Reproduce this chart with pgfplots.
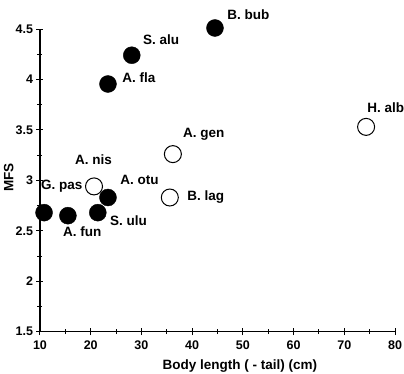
\documentclass[border=0pt]{standalone}
\usepackage{fontspec}
\setmainfont{Liberation Sans}
\usepackage{pgfplots}
\pgfplotsset{compat=1.18}
\begin{document}
\begin{tikzpicture}[x=1pt,y=1pt,font=\fontsize{13.5}{15}\selectfont\bfseries]
\useasboundingbox (-40,-41.3) rectangle (364,331.7);
\begin{axis}[
  at={(0,0)}, anchor=south west,
  scale only axis, width=355pt, height=302.7pt,
  xmin=10, xmax=80, ymin=1.5, ymax=4.5,
  axis x line*=bottom, axis y line*=left,
  axis line style={line width=1.3pt},
  xtick={10,20,...,80}, ytick={1.5,2,2.5,3,3.5,4,4.5},
  minor x tick num=1, minor y tick num=1,
  tick align=center,
  major tick length=7pt, minor tick length=5pt,
  every tick/.style={line width=1pt, black},
  /pgf/number format/assume math mode=true,
  tick label style={font=\fontsize{12.5}{14}\selectfont\bfseries},
  xticklabel style={yshift=-2pt},
  clip=false,
  xlabel={Body length ( - tail) (cm)},
  ylabel={MFS},
  label style={font=\fontsize{13.5}{15}\selectfont\bfseries},
  xlabel style={at={(axis description cs:0.563,0)}, anchor=north, yshift=-24pt},
  ylabel style={at={(axis description cs:0,0.51)}, anchor=south, yshift=23pt},
]
\addplot[only marks, mark=*, mark size=8.5pt, mark options={fill=white, draw=black, line width=1pt}]
  coordinates {(74.3,3.53) (36.2,3.26) (20.65,2.94) (35.6,2.83)};
\addplot[only marks, mark=*, mark size=8.5pt, mark options={fill=black, draw=black}]
  coordinates {(44.5,4.51) (28.1,4.24) (23.4,3.955) (23.4,2.83) (10.8,2.68) (15.5,2.65) (21.4,2.68)};
\node[anchor=west, inner sep=0pt] at (axis cs:46.9,4.64) {B. bub};
\node[anchor=west, inner sep=0pt] at (axis cs:30.3,4.39) {S. alu};
\node[anchor=west, inner sep=0pt] at (axis cs:26.2,4.02) {A. fla};
\node[anchor=west, inner sep=0pt] at (axis cs:74.5,3.72) {H. alb};
\node[anchor=west, inner sep=0pt] at (axis cs:38.2,3.46) {A. gen};
\node[anchor=west, inner sep=0pt] at (axis cs:16.9,3.20) {A. nis};
\node[anchor=west, inner sep=0pt] at (axis cs:25.8,3.00) {A. otu};
\node[anchor=west, inner sep=0pt] at (axis cs:10.2,2.94) {G. pas};
\node[anchor=west, inner sep=0pt] at (axis cs:39.0,2.83) {B. lag};
\node[anchor=west, inner sep=0pt] at (axis cs:23.8,2.60) {S. ulu};
\node[anchor=west, inner sep=0pt] at (axis cs:14.5,2.49) {A. fun};
\end{axis}
\end{tikzpicture}
\end{document}
